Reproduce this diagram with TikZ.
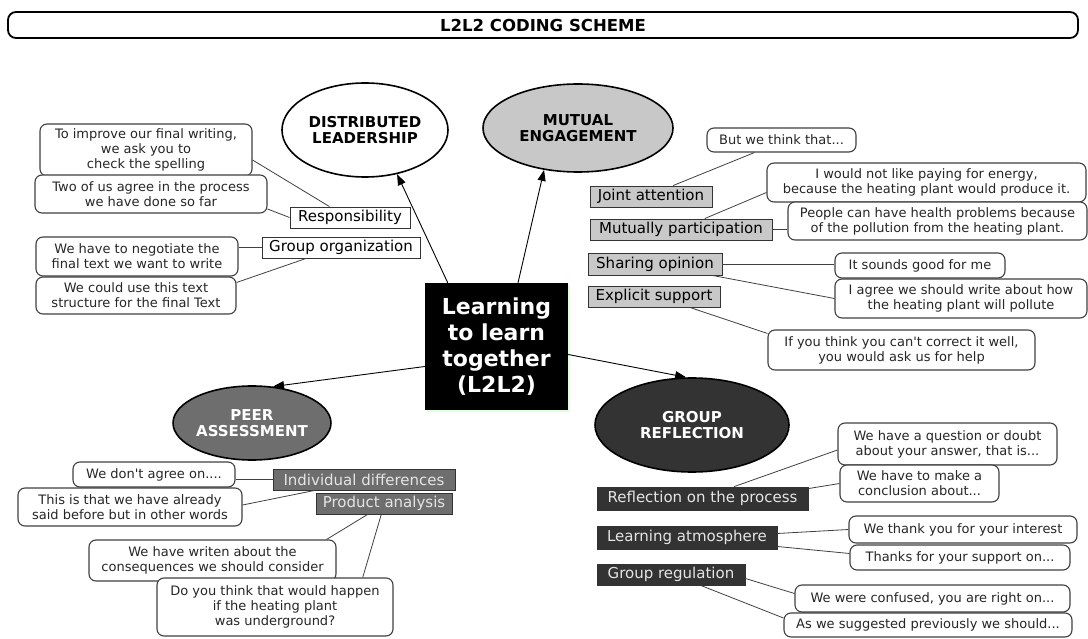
\documentclass[tikz,border=0pt]{standalone}
\usepackage{fontspec}
\setmainfont{DejaVu Sans}
\usetikzlibrary{arrows.meta,calc,shapes.geometric,shadows}
\definecolor{lgrey}{HTML}{C8C8C8}
\definecolor{mgrey}{HTML}{6E6E6E}
\definecolor{dgrey}{HTML}{333333}
\definecolor{bord}{HTML}{404040}
\begin{document}
\begin{tikzpicture}[x=1pt,y=-1pt,
 bubble/.style={draw=bord, line width=1.1pt, rounded corners=7pt, fill=white, align=center, inner sep=1pt, font=\fontsize{13}{15}\selectfont, text=black!85},
 cat/.style={draw=black!80, line width=0.9pt, inner sep=1pt, font=\fontsize{15}{17}\selectfont},
 catW/.style={cat, fill=white},
 catL/.style={cat, fill=lgrey},
 catM/.style={cat, fill=mgrey, text=white!90!black},
 catD/.style={cat, fill=dgrey, text=white!90!black},
 sz/.style 2 args={minimum width=#1, minimum height=#2},
 oval/.style={ellipse, draw=black, line width=1.6pt, align=center, inner sep=0pt, font=\bfseries\fontsize{15}{16.5}\selectfont},
 link/.style={draw=black!75, line width=0.8pt},
 arr/.style={draw=black, line width=0.9pt, -{Triangle[length=11pt,width=8pt]}},
]
\useasboundingbox (0,0) rectangle (1088,639);

% title
\node[draw, rounded corners=8pt, line width=1.8pt, sz={1070pt}{26pt}, font=\bfseries\fontsize{16.5}{18}\selectfont] (title) at (543,25) {L2L2 CODING SCHEME};

% ellipses
\node[oval, fill=white, sz={166pt}{94pt}] (DL) at (365,130) {DISTRIBUTED\\LEADERSHIP};
\node[oval, fill=lgrey, sz={190pt}{88pt}] (ME) at (578,128) {MUTUAL\\ENGAGEMENT};
\node[oval, fill=mgrey, text=white, sz={155pt}{74pt}] (PA) at (252,423) {PEER\\ASSESSMENT};
\node[oval, fill=dgrey, text=white, sz={194pt}{94pt}] (GR) at (692,425) {GROUP\\REFLECTION};

% centre
\node[fill=black, text=white, sz={143pt}{127pt}, align=center, font=\bfseries\fontsize{22}{26}\selectfont, drop shadow={fill=green!25, shadow xshift=2pt, shadow yshift=-2pt}] (CB) at (496.5,346.5) {Learning\\to learn\\together\\(L2L2)};

% top left
\node[bubble, sz={212pt}{52pt}] (b1) at (146,150) {To improve our final writing,\\we ask you to\\check the spelling};
\node[bubble, sz={232pt}{38pt}] (b2) at (151,194) {Two of us agree in the process\\we have done so far};
\node[catW, sz={120pt}{21pt}] (resp) at (350,217.5) {Responsibility};
\node[catW, sz={158pt}{21pt}] (grp) at (341,247.5) {Group organization};
\node[bubble, sz={202pt}{39pt}] (b3) at (137,256.5) {We have to negotiate the\\final text we want to write};
\node[bubble, sz={200pt}{37pt}] (b4) at (136,295.5) {We could use this text\\structure for the final Text};

% top right
\node[bubble, sz={149pt}{24pt}] (but) at (781.5,140) {But we think that...};
\node[catL, sz={122pt}{21pt}] (ja) at (651,196.5) {Joint attention};
\node[bubble, sz={319pt}{39pt}] (iw) at (926.5,182.5) {I would not like paying for energy,\\because the heating plant would produce it.};
\node[catL, sz={182pt}{21pt}] (mp) at (681,229.5) {Mutually participation};
\node[bubble, sz={299pt}{38pt}] (pp) at (937.5,221) {People can have health problems because\\of the pollution from the heating plant.};
\node[catL, sz={134pt}{22pt}] (so) at (655,264) {Sharing opinion};
\node[catL, sz={132pt}{21pt}] (es) at (654,296.5) {Explicit support};
\node[bubble, sz={170pt}{25pt}] (isg) at (920,265.5) {It sounds good for me};
\node[bubble, sz={252pt}{39pt}] (iag) at (961,298.5) {I agree we should write about how\\the heating plant will pollute};
\node[bubble, sz={267pt}{40pt}] (ify) at (901.5,350) {If you think you can\textquotesingle t correct it well,\\you would ask us for help};

% bottom left
\node[bubble, sz={162pt}{25pt}] (wda) at (154,474.5) {We don\textquotesingle t agree on....};
\node[bubble, sz={224pt}{38pt}] (tit) at (130,507) {This is that we have already\\said before but in other words};
\node[catM, sz={182pt}{21pt}] (idf) at (364,479.5) {Individual differences};
\node[catM, sz={136pt}{21pt}] (pan) at (384,503.5) {Product analysis};
\node[bubble, sz={247pt}{41pt}] (wwa) at (212.5,560.5) {We have writen about the\\consequences we should consider};
\node[bubble, sz={236pt}{58pt}] (dyt) at (275,607) {Do you think that would happen\\if the heating plant\\was underground?};

% bottom right
\node[bubble, sz={219pt}{42pt}] (qd) at (947.5,444) {We have a question or doubt\\about your answer, that is...};
\node[bubble, sz={159pt}{37pt}] (mc) at (919.5,483.5) {We have to make a\\conclusion about...};
\node[catD, sz={211pt}{23pt}] (rp) at (702.5,498.5) {Reflection on the process};
\node[catD, sz={180pt}{23pt}] (la) at (687,537.5) {Learning atmosphere};
\node[bubble, sz={228pt}{27pt}] (ty) at (963,529.5) {We thank you for your interest};
\node[bubble, sz={220pt}{25pt}] (ts) at (960,557.5) {Thanks for your support on...};
\node[catD, sz={148pt}{21pt}] (gr) at (671,574.5) {Group regulation};
\node[bubble, sz={275pt}{27pt}] (wc) at (932.5,598.5) {We were confused, you are right on...};
\node[bubble, sz={288pt}{24pt}] (asw) at (928,625) {As we suggested previously we should...};

% arrows
\draw[arr] ($(CB.north west)!0.16!(CB.north east)$) -- (DL.306);
\draw[arr] ($(CB.north west)!0.65!(CB.north east)$) -- (ME.231);
\draw[arr] ($(CB.east)+(0,8)$) -- (GR.97);
\draw[arr] ($(CB.west)+(0,20)$) -- (PA.60);

% links
\draw[link] ($(b1.east)+(0,10)$) -- ($(resp.north west)!0.33!(resp.north east)$);
\draw[link] ($(b2.east)+(0,15)$) -- (resp.west);
\draw[link] (grp.west) -- (grp.west -| b3.east);
\draw[link] ($(grp.south west)!0.28!(grp.south east)$) -- ($(b4.east)+(0,-13)$);

\draw[link] ($(ja.north west)!0.68!(ja.north east)$) -- ($(but.south west)!0.32!(but.south east)$);
\draw[link] ($(mp.north west)!0.63!(mp.north east)$) -- ($(iw.west)+(0,10)$);
\draw[link] (mp.east) -- (mp.east -| pp.west);
\draw[link] (so.east) -- (so.east -| isg.west);
\draw[link] ($(so.south east)+(-10,0)$) -- (iag.west);
\draw[link] ($(es.south west)!0.77!(es.south east)$) -- ($(ify.north west)+(0,4)$);

\draw[link] (idf.west) -- (idf.west -| wda.east);
\draw[link] ($(idf.south west)!0.23!(idf.south east)$) -- ($(tit.east)+(0,-2)$);
\draw[link] ($(pan.south west)!0.38!(pan.south east)$) -- ($(wwa.north east)+(-10,0)$);
\draw[link] ($(pan.south west)!0.48!(pan.south east)$) -- ($(dyt.north west)!0.87!(dyt.north east)$);

\draw[link] ($(rp.north west)!0.65!(rp.north east)$) -- ($(qd.west)+(0,6)$);
\draw[link] ($(rp.north east)+(0,2)$) -- (mc.west);
\draw[link] ($(la.east)+(0,-4)$) -- (ty.west);
\draw[link] ($(la.east)+(0,9)$) -- ($(ts.west)+(0,-4)$);
\draw[link] ($(gr.east)+(0,4)$) -- ($(wc.west)+(0,-5)$);
\draw[link] ($(gr.south west)!0.7!(gr.south east)$) -- ($(asw.west)+(0,-7)$);
\end{tikzpicture}
\end{document}
